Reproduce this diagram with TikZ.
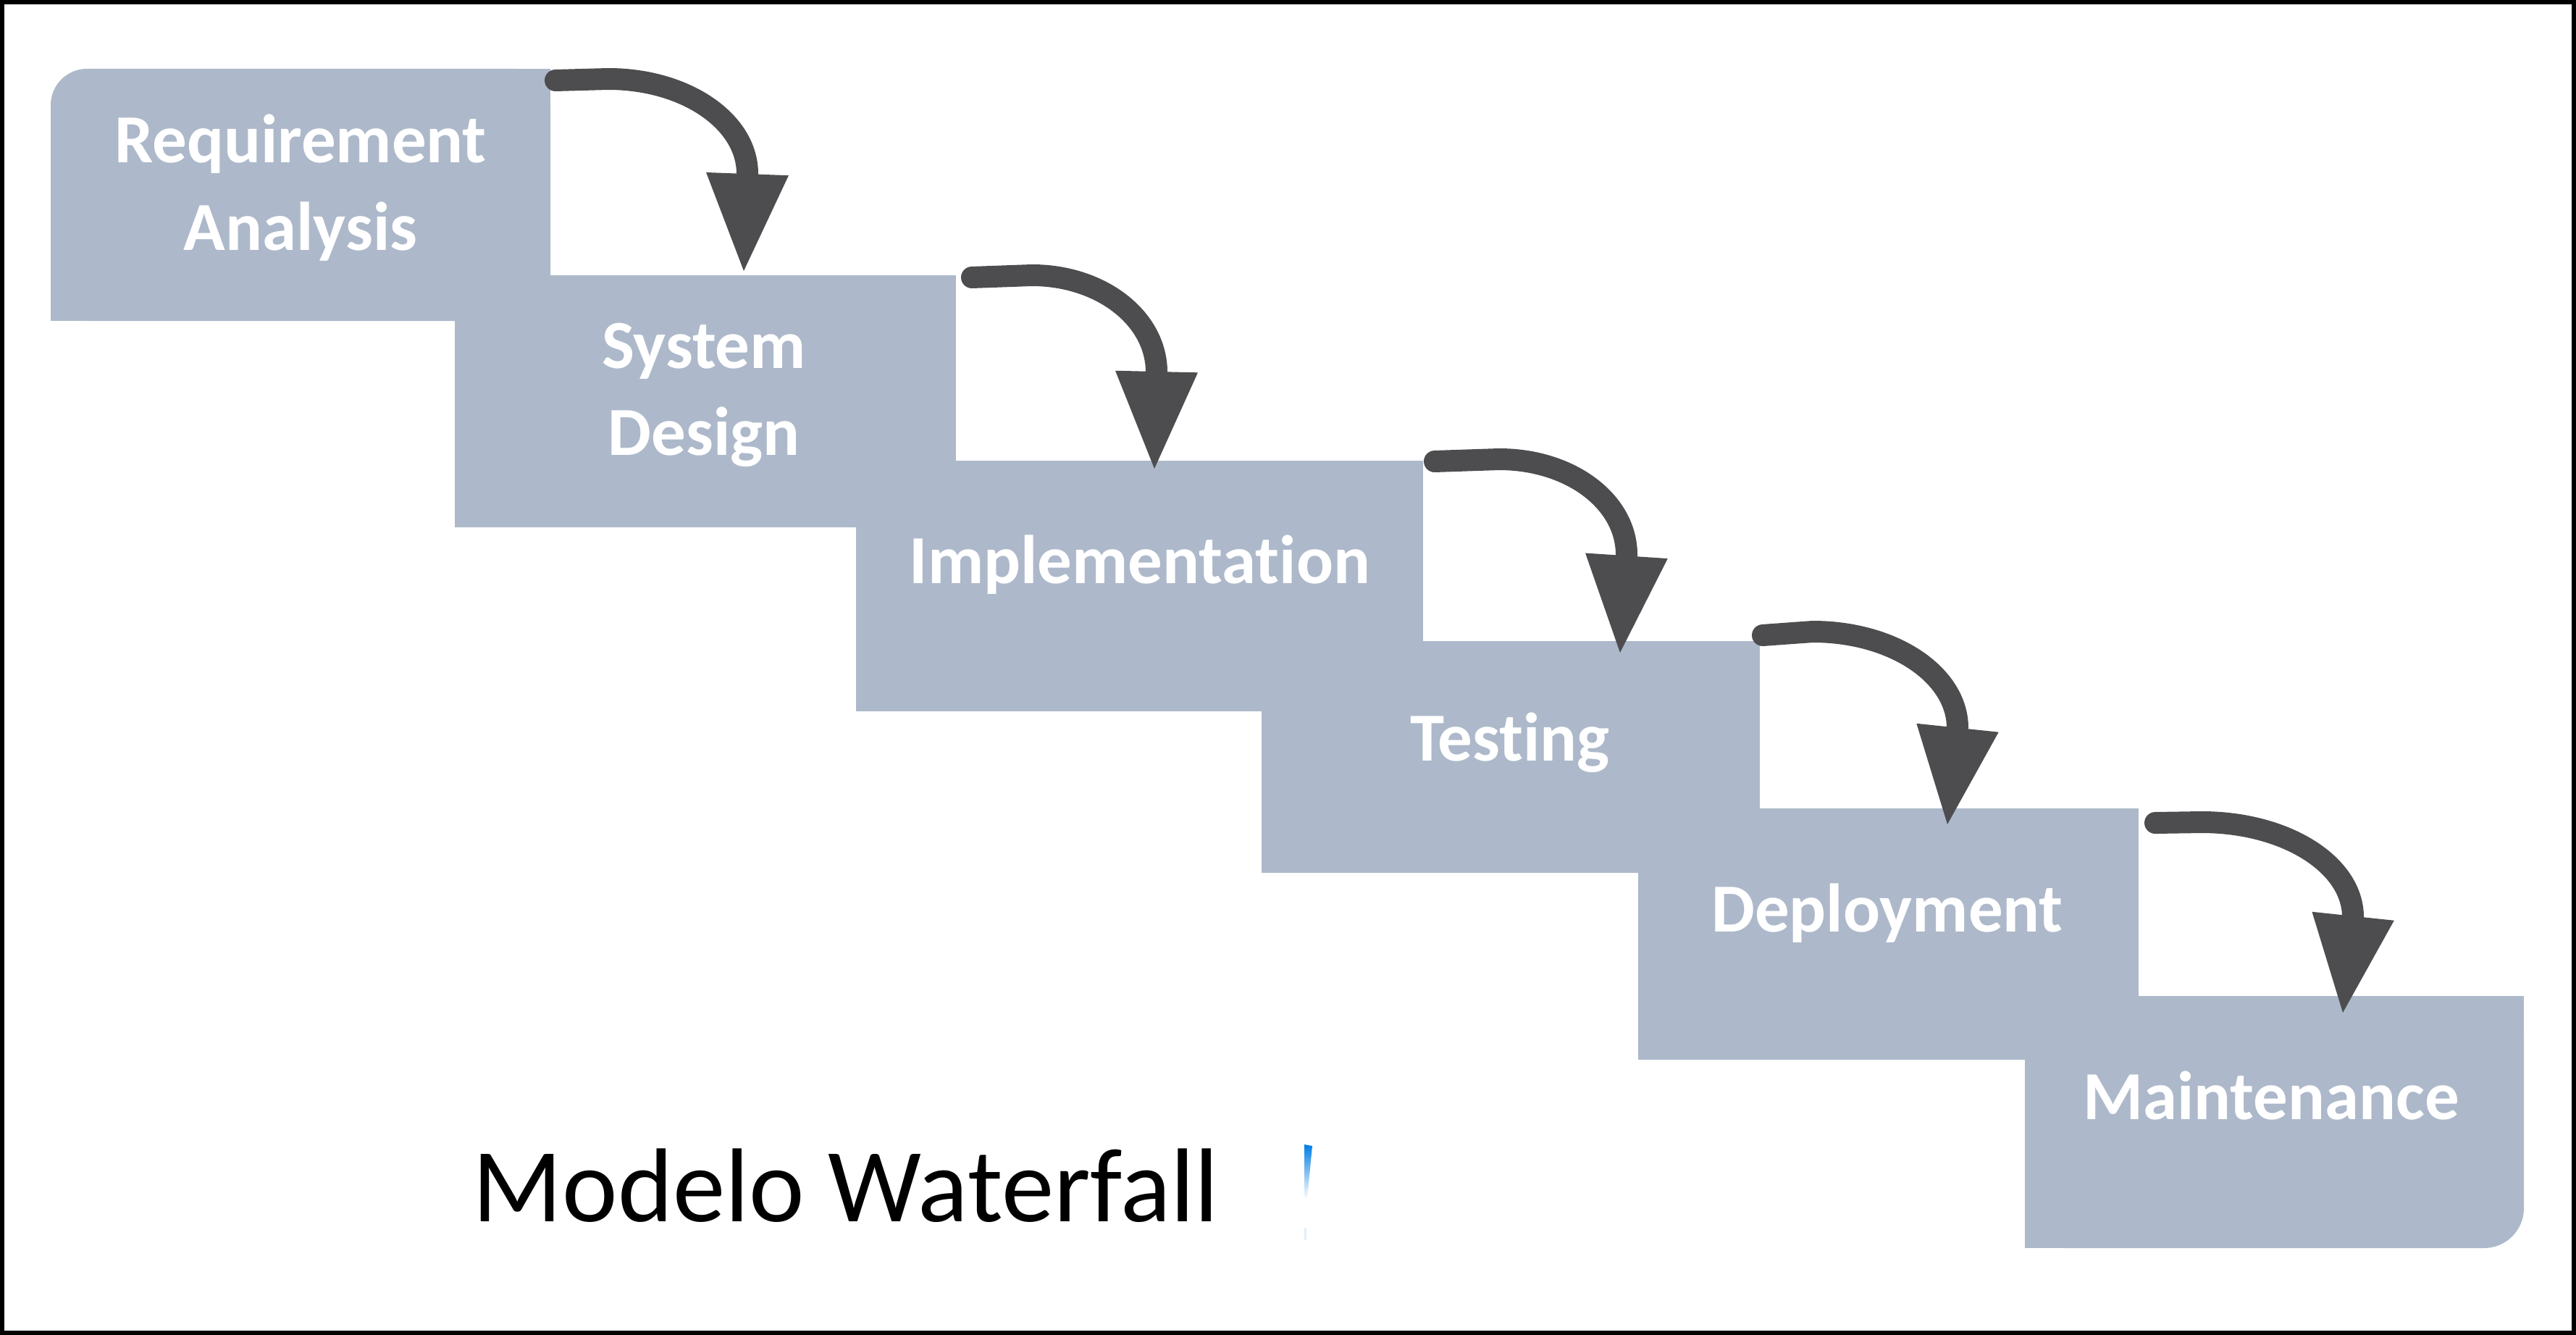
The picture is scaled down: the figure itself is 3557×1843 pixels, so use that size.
\documentclass[tikz,border=0pt]{standalone}
\usepackage{fontspec}
\newfontfamily\calib{Carlito}[Ligatures=NoCommon]
\usetikzlibrary{arrows.meta,calc}
\definecolor{stepblue}{RGB}{173,185,202}
\definecolor{arrowgray}{RGB}{77,77,79}
\definecolor{markblue}{RGB}{0,125,228}
\tikzset{
  stepbox/.style={fill=stepblue, draw=none, inner sep=0pt, outer sep=0pt},
  stepfill/.style={fill=stepblue, draw=none},
  steplabel/.style={text=white, font=\calib\bfseries\fontsize{95}{120}\selectfont, inner sep=0pt, anchor=base, align=center},
  flow/.style={draw=arrowgray, line width=30pt, line cap=round,
    -{Triangle[width=114pt 0 0, length=134pt 0 0, line width=0pt 0 0]}},
}
\begin{document}
\begin{tikzpicture}[x=1pt, y=-1pt]
\useasboundingbox (0,0) rectangle (3557,1843);
\fill[white] (0,0) rectangle (3557,1843);

% steps
\node[stepbox, rounded corners=50pt, minimum width=690pt, minimum height=348pt] (b1) at (415,269) {};
\fill[stepfill] ($(b1.north west)+(50,0)$) rectangle (b1.south east);
\fill[stepfill] ($(b1.north west)+(0,50)$) rectangle (b1.south east);
\node[stepbox, minimum width=692pt, minimum height=348pt] (b2) at (974,554) {};
\node[stepbox, minimum width=783pt, minimum height=346pt] (b3) at (1573.5,809) {};
\node[stepbox, minimum width=688pt, minimum height=320pt] (b4) at (2086,1045) {};
\node[stepbox, minimum width=691pt, minimum height=347pt] (b5) at (2607.5,1289.5) {};
\node[stepbox, rounded corners=55pt, minimum width=689pt, minimum height=348pt] (b6) at (3140.5,1549) {};
\fill[stepfill] (b6.north west) rectangle ($(b6.south east)+(-55,0)$);
\fill[stepfill] (b6.north west) rectangle ($(b6.south east)+(0,-55)$);

% labels (base anchor = baseline of the last line)
\node[steplabel] (l1) at (415,345) {Requirement\\Analysis};
\node[steplabel] (l2) at (972,628) {System\\Design};
\node[steplabel] (l3) at (1574,805) {Implementation};
\node[steplabel] (l4) at (2085,1050) {Testing};
\node[steplabel] (l5) at (2606,1286) {Deployment};
\node[steplabel] (l6) at (3136,1545) {Maintenance};

% arrows
\draw[flow] ($(b1.north east)+(7,16)$) -- (840,109) .. controls (946,109) and (1032,167) .. (1032,240) -- ($(b2.north west)+(399,-6)$);
\draw[flow] ($(b2.north east)+(22,3)$) -- (1425,380) .. controls (1520,380) and (1597,439) .. (1597,514) -- ($(b3.north west)+(412,11)$);
\draw[flow] ($(b3.north east)+(16,1)$) -- (2070,634) .. controls (2168,634) and (2246,692) .. (2246,766) -- ($(b4.north west)+(495,16)$);
\draw[flow] ($(b4.north east)+(4,-8)$) -- (2503,872) .. controls (2615,872) and (2703,932) .. (2703,1005) -- ($(b5.north west)+(427,22)$);
\draw[flow] ($(b5.north east)+(23,20)$) -- (3040,1135) .. controls (3157,1135) and (3249,1194) .. (3249,1266) -- ($(b6.north west)+(439,23)$);

% title
\node[font=\calib\fontsize{145}{170}\selectfont, inner sep=0pt, anchor=base] (title) at (1168,1686) {Modelo Waterfall};

% small blue mark
\shade[top color=markblue, bottom color=white] (1801,1580) -- (1812,1582) -- (1805,1655) -- (1801,1655) -- cycle;
\fill[markblue!12] (1801,1695) rectangle (1804,1712);

% frame
\draw[line width=6pt] (3,3) rectangle (3554,1840);
\end{tikzpicture}
\end{document}
